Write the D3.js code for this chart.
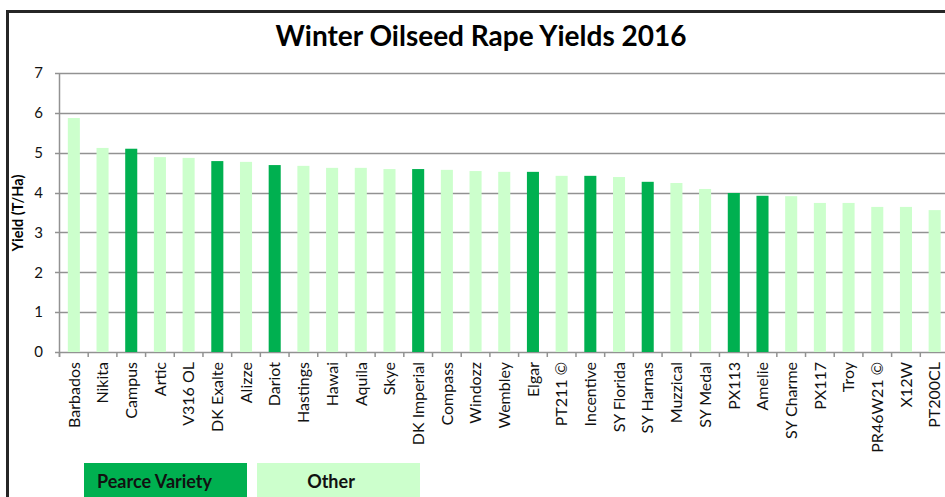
<!DOCTYPE html>
<html>
<head>
<meta charset="utf-8">
<script src="https://cdn.jsdelivr.net/npm/d3@7"></script>
<style>
  body { margin: 0; background: #fff; }
  svg { display: block; font-family: Lato, "Open Sans", sans-serif; }
</style>
</head>
<body>
<svg id="chart" width="945" height="497"></svg>
<script>
// Variety names, in chart order
const varieties = ["Barbados", "Nikita", "Campus", "Artic", "V316 OL", "DK Exalte", "Alizze", "Dariot",
  "Hastings", "Hawai", "Aquila", "Skye", "DK Imperial", "Compass", "Windozz", "Wembley", "Elgar",
  "PT211 ©", "Incentive", "SY Florida", "SY Harnas", "Muzzical", "SY Medal", "PX113", "Amelie",
  "SY Charme", "PX117", "Troy", "PR46W21 ©", "X12W", "PT200CL"];

// Yield in T/Ha
const yields = [5.87, 5.12, 5.10, 4.89, 4.87, 4.79, 4.77, 4.69, 4.67, 4.62, 4.62, 4.59, 4.59, 4.57,
  4.54, 4.52, 4.52, 4.42, 4.42, 4.39, 4.27, 4.24, 4.09, 3.99, 3.92, 3.91, 3.74, 3.74, 3.64, 3.64, 3.56];

// Pearce varieties get the dark colour
const pearceVarieties = ["Campus", "DK Exalte", "Dariot", "DK Imperial", "Elgar", "Incentive",
  "SY Harnas", "PX113", "Amelie"];

const yTicks = [0, 1, 2, 3, 4, 5, 6, 7];
const legendItems = ["Pearce Variety", "Other"];

const DARK = "#00b050";
const LIGHT = "#ccffcc";

const data = varieties.map((name, i) => ({name, value: yields[i], pearce: pearceVarieties.includes(name)}));

const svg = d3.select("#chart");

// Outer chart border (the picture is cropped at right and bottom)
svg.append("rect")
    .attr("x", 7.5).attr("y", 11.5)
    .attr("width", 1000).attr("height", 600)
    .attr("fill", "none")
    .attr("stroke", "#262626")
    .attr("stroke-width", 3);

const x = d3.scaleBand()
    .domain(varieties)
    .range([59.5, 949])
    .paddingInner(0.58)
    .paddingOuter(0.29);

const y = d3.scaleLinear()
    .domain([0, 7])
    .range([352, 73]);

// Gridlines
svg.append("g")
    .selectAll("line")
    .data(yTicks)
    .join("line")
    .attr("x1", 55).attr("x2", 945)
    .attr("y1", d => Math.round(y(d)) + 0.5)
    .attr("y2", d => Math.round(y(d)) + 0.5)
    .attr("stroke", "#929292")
    .attr("stroke-width", 1.5);

// Y axis line
svg.append("line")
    .attr("x1", 59.5).attr("x2", 59.5)
    .attr("y1", y(7)).attr("y2", y(0) + 5)
    .attr("stroke", "#929292")
    .attr("stroke-width", 1.5);

// Y tick labels
svg.append("g")
    .selectAll("text")
    .data(yTicks)
    .join("text")
    .attr("x", 43)
    .attr("y", d => y(d))
    .attr("dy", "0.35em")
    .attr("text-anchor", "end")
    .attr("font-size", 15)
    .attr("fill", "#111")
    .text(d => d);

// Category ticks at band boundaries
const step = x.step();
const x0 = x.range()[0];
svg.append("g")
    .selectAll("line")
    .data(d3.range(varieties.length + 1))
    .join("line")
    .attr("x1", i => x0 + i * step)
    .attr("x2", i => x0 + i * step)
    .attr("y1", y(0)).attr("y2", y(0) + 5)
    .attr("stroke", "#929292")
    .attr("stroke-width", 1.5);

// Bars
svg.append("g")
    .selectAll("rect")
    .data(data)
    .join("rect")
    .attr("x", d => x(d.name))
    .attr("y", d => y(d.value))
    .attr("width", x.bandwidth())
    .attr("height", d => y(0) - y(d.value))
    .attr("fill", d => d.pearce ? DARK : LIGHT);

// Category labels, rotated
svg.append("g")
    .selectAll("text")
    .data(varieties)
    .join("text")
    .attr("transform", d => `translate(${x(d) + x.bandwidth() / 2},362) rotate(-90)`)
    .attr("dy", "0.36em")
    .attr("text-anchor", "end")
    .attr("font-size", 16)
    .attr("fill", "#111")
    .text(d => d);

// Title
svg.append("text")
    .attr("x", 481)
    .attr("y", 46)
    .attr("text-anchor", "middle")
    .attr("font-size", 28)
    .attr("font-weight", "bold")
    .attr("fill", "#000")
    .text("Winter Oilseed Rape Yields 2016");

// Y axis title
svg.append("text")
    .attr("transform", "translate(23,213) rotate(-90)")
    .attr("text-anchor", "middle")
    .attr("font-size", 14.5)
    .attr("font-weight", "bold")
    .attr("fill", "#000")
    .text("Yield (T/Ha)");

// Legend boxes
const legend = svg.append("g")
    .selectAll("g")
    .data(legendItems)
    .join("g")
    .attr("transform", (d, i) => `translate(${84 + i * 173},463)`);

legend.append("rect")
    .attr("width", 163)
    .attr("height", 40)
    .attr("fill", (d, i) => i === 0 ? DARK : LIGHT);

legend.append("text")
    .attr("x", (d, i) => i === 0 ? 13 : 74)
    .attr("y", 25)
    .attr("text-anchor", (d, i) => i === 0 ? "start" : "middle")
    .attr("font-size", 18)
    .attr("font-weight", "bold")
    .attr("fill", "#111")
    .text(d => d);
</script>
</body>
</html>
